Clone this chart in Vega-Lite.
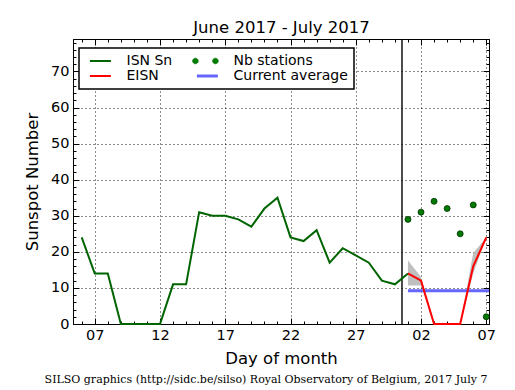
{
  "$schema": "https://vega.github.io/schema/vega-lite/v6.json",
  "width": 416,
  "height": 285,
  "autosize": "none",
  "padding": {"left": 73, "top": 39, "right": 26, "bottom": 66},
  "background": "white",
  "title": {
    "text": "SILSO graphics (http://sidc.be/silso) Royal Observatory of Belgium, 2017 July 7",
    "orient": "bottom",
    "anchor": "middle",
    "dx": -15,
    "offset": 7,
    "font": "DejaVu Serif",
    "fontSize": 11,
    "fontWeight": "normal",
    "color": "black"
  },
  "config": {
    "font": "DejaVu Sans",
    "view": {"stroke": "black", "strokeWidth": 1},
    "axis": {
      "domainColor": "black",
      "domainWidth": 1,
      "tickColor": "black",
      "tickWidth": 1,
      "labelColor": "black",
      "titleColor": "black",
      "labelFont": "DejaVu Sans",
      "labelFontSize": 14.5,
      "titleFont": "DejaVu Sans",
      "titleFontSize": 16.5,
      "titleFontWeight": "normal",
      "gridColor": "black",
      "gridDash": [1, 3],
      "gridWidth": 1,
      "gridOpacity": 0.9
    }
  },
  "datasets": {
    "isn": [
      {"date": "2017-06-06", "value": 24},
      {"date": "2017-06-07", "value": 14},
      {"date": "2017-06-08", "value": 14},
      {"date": "2017-06-09", "value": 0},
      {"date": "2017-06-10", "value": 0},
      {"date": "2017-06-11", "value": 0},
      {"date": "2017-06-12", "value": 0},
      {"date": "2017-06-13", "value": 11},
      {"date": "2017-06-14", "value": 11},
      {"date": "2017-06-15", "value": 31},
      {"date": "2017-06-16", "value": 30},
      {"date": "2017-06-17", "value": 30},
      {"date": "2017-06-18", "value": 29},
      {"date": "2017-06-19", "value": 27},
      {"date": "2017-06-20", "value": 32},
      {"date": "2017-06-21", "value": 35},
      {"date": "2017-06-22", "value": 24},
      {"date": "2017-06-23", "value": 23},
      {"date": "2017-06-24", "value": 26},
      {"date": "2017-06-25", "value": 17},
      {"date": "2017-06-26", "value": 21},
      {"date": "2017-06-27", "value": 19},
      {"date": "2017-06-28", "value": 17},
      {"date": "2017-06-29", "value": 12},
      {"date": "2017-06-30", "value": 11},
      {"date": "2017-07-01", "value": 14}
    ],
    "eisn": [
      {"date": "2017-07-01", "value": 14, "lo": 10.7, "hi": 17.6},
      {"date": "2017-07-02", "value": 12, "lo": 10.7, "hi": 13},
      {"date": "2017-07-03", "value": 0, "lo": 0, "hi": 0},
      {"date": "2017-07-04", "value": 0, "lo": 0, "hi": 0},
      {"date": "2017-07-05", "value": 0, "lo": 0, "hi": 0},
      {"date": "2017-07-06", "value": 16, "lo": 14, "hi": 19.7},
      {"date": "2017-07-07", "value": 24, "lo": 24, "hi": 24}
    ],
    "stations": [
      {"date": "2017-07-01", "value": 29},
      {"date": "2017-07-02", "value": 31},
      {"date": "2017-07-03", "value": 34},
      {"date": "2017-07-04", "value": 32},
      {"date": "2017-07-05", "value": 25},
      {"date": "2017-07-06", "value": 33},
      {"date": "2017-07-07", "value": 2}
    ],
    "avg": [
      {"date": "2017-07-01", "value": 9.2},
      {"date": "2017-07-08", "value": 9.2}
    ],
    "now": [
      {"date": "2017-06-30T13:00:00Z"}
    ]
  },
  "resolve": {"axis": {"x": "independent", "y": "independent"}},
  "layer": [
    {
      "data": {"name": "eisn"},
      "mark": {"type": "area", "color": "#b8b8b8", "opacity": 0.9},
      "encoding": {
        "x": {
          "field": "date", "type": "temporal",
          "scale": {"type": "utc", "domain": [
            {"year": 2017, "month": 6, "date": 5, "hours": 8, "utc": true},
            {"year": 2017, "month": 7, "date": 7, "hours": 5, "utc": true}
          ]},
          "axis": {
            "orient": "top",
            "values": [
              {"year": 2017, "month": 6, "date": 7, "utc": true},
              {"year": 2017, "month": 6, "date": 12, "utc": true},
              {"year": 2017, "month": 6, "date": 17, "utc": true},
              {"year": 2017, "month": 6, "date": 22, "utc": true},
              {"year": 2017, "month": 6, "date": 27, "utc": true},
              {"year": 2017, "month": 7, "date": 2, "utc": true},
              {"year": 2017, "month": 7, "date": 7, "utc": true}
            ],
            "labels": false,
            "grid": false,
            "tickSize": -6,
            "title": "June 2017 - July 2017",
            "titlePadding": 3
          }
        },
        "y": {
          "field": "lo", "type": "quantitative",
          "scale": {"domain": [0, 79], "nice": false, "zero": false},
          "axis": {
            "orient": "right",
            "values": [0, 10, 20, 30, 40, 50, 60, 70],
            "labels": false,
            "grid": false,
            "tickSize": -6,
            "title": null
          }
        },
        "y2": {"field": "hi"}
      }
    },
    {
      "data": {"name": "now"},
      "mark": {"type": "rule", "color": "black", "strokeWidth": 1.4},
      "encoding": {
        "x": {
          "field": "date", "type": "temporal",
          "axis": {
            "orient": "bottom",
            "values": [
              {"year": 2017, "month": 6, "date": 7, "utc": true},
              {"year": 2017, "month": 6, "date": 12, "utc": true},
              {"year": 2017, "month": 6, "date": 17, "utc": true},
              {"year": 2017, "month": 6, "date": 22, "utc": true},
              {"year": 2017, "month": 6, "date": 27, "utc": true},
              {"year": 2017, "month": 7, "date": 2, "utc": true},
              {"year": 2017, "month": 7, "date": 7, "utc": true}
            ],
            "format": "%d",
            "grid": true,
            "tickSize": -6,
            "labelPadding": 10,
            "title": "Day of month",
            "titlePadding": 9
          }
        },
        "y": {
          "datum": 0, "type": "quantitative",
          "axis": {
            "orient": "left",
            "values": [0, 10, 20, 30, 40, 50, 60, 70],
            "grid": true,
            "tickSize": -6,
            "labelPadding": 10,
            "title": "Sunspot Number",
            "titlePadding": 10
          }
        },
        "y2": {"datum": 79}
      }
    },
    {
      "data": {"name": "avg"},
      "mark": {"type": "line", "strokeWidth": 3, "clip": true},
      "encoding": {
        "x": {
          "field": "date", "type": "temporal",
          "axis": {
            "orient": "bottom",
            "tickCount": {"interval": "day", "step": 1},
            "labels": false, "grid": false, "domain": false,
            "tickSize": -3, "title": null
          }
        },
        "y": {
          "field": "value", "type": "quantitative",
          "axis": {
            "orient": "left",
            "values": [2, 4, 6, 8, 12, 14, 16, 18, 22, 24, 26, 28, 32, 34, 36, 38, 42, 44, 46, 48, 52, 54, 56, 58, 62, 64, 66, 68, 72, 74, 76, 78],
            "labels": false, "grid": false, "domain": false,
            "tickSize": -3, "title": null
          }
        },
        "color": {
          "datum": "Current average", "type": "nominal",
          "scale": {
            "domain": ["ISN Sn", "EISN", "Nb stations", "Current average"],
            "range": ["#006400", "#ff0000", "#007a00", "#6666ff"]
          },
          "legend": {
            "orient": "none",
            "legendX": 6,
            "legendY": 9,
            "columns": 2,
            "title": null,
            "strokeColor": "black",
            "fillColor": "white",
            "padding": 6,
            "labelFont": "DejaVu Sans",
            "labelFontSize": 14,
            "labelColor": "black",
            "symbolSize": 110,
            "labelOffset": 27.5,
            "columnPadding": 17,
            "rowPadding": 1,
            "encode": {
              "legend": {"update": {"strokeWidth": {"value": 1.5}}},
              "symbols": {
                "update": {
                  "shape": {"signal": "datum.value === 'Nb stations' ? 'M-1.21,0a0.53,0.53 0 1,0 1.06,0a0.53,0.53 0 1,0 -1.06,0M2.6,0a0.53,0.53 0 1,0 1.06,0a0.53,0.53 0 1,0 -1.06,0' : 'M-0.4,0H3.6'"},
                  "fill": {"signal": "datum.value === 'Nb stations' ? '#007a00' : 'transparent'"},
                  "stroke": {"signal": "datum.value === 'Nb stations' ? '#003300' : (datum.value === 'ISN Sn' ? '#006400' : (datum.value === 'EISN' ? '#ff0000' : '#6666ff'))"},
                  "strokeWidth": {"signal": "datum.value === 'Nb stations' ? 0.8 : (datum.value === 'Current average' ? 3 : 2)"},
                  "opacity": {"value": 1}
                }
              }
            }
          }
        }
      }
    },
    {
      "data": {"name": "isn"},
      "mark": {"type": "line", "strokeWidth": 2},
      "encoding": {
        "x": {
          "field": "date", "type": "temporal",
          "axis": {
            "orient": "top",
            "tickCount": {"interval": "day", "step": 1},
            "labels": false, "grid": false, "domain": false,
            "tickSize": -3, "title": null
          }
        },
        "y": {
          "field": "value", "type": "quantitative",
          "axis": {
            "orient": "right",
            "values": [2, 4, 6, 8, 12, 14, 16, 18, 22, 24, 26, 28, 32, 34, 36, 38, 42, 44, 46, 48, 52, 54, 56, 58, 62, 64, 66, 68, 72, 74, 76, 78],
            "labels": false, "grid": false, "domain": false,
            "tickSize": -3, "title": null
          }
        },
        "color": {"datum": "ISN Sn", "type": "nominal"}
      }
    },
    {
      "data": {"name": "eisn"},
      "mark": {"type": "line", "strokeWidth": 2},
      "encoding": {
        "x": {"field": "date", "type": "temporal", "axis": null},
        "y": {"field": "value", "type": "quantitative", "axis": null},
        "color": {"datum": "EISN", "type": "nominal"}
      }
    },
    {
      "data": {"name": "stations"},
      "mark": {"type": "point", "filled": true, "size": 36, "stroke": "#003300", "strokeWidth": 0.8, "opacity": 1},
      "encoding": {
        "x": {"field": "date", "type": "temporal", "axis": null},
        "y": {"field": "value", "type": "quantitative", "axis": null},
        "color": {"datum": "Nb stations", "type": "nominal"}
      }
    }
  ]
}
